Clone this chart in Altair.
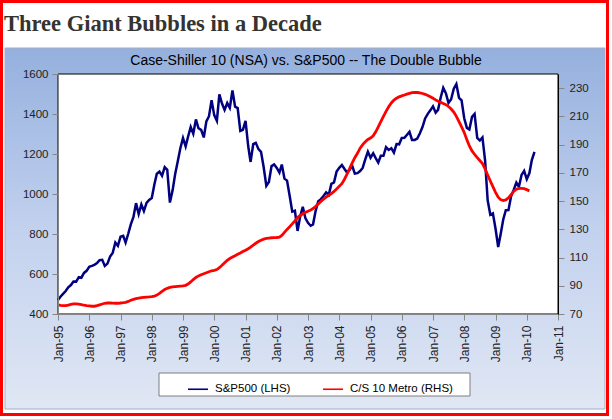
import altair as alt
import pandas as pd

# ---------------- data ----------------
title_main = "Three Giant Bubbles in a Decade"
chart_title = "Case-Shiller 10 (NSA) vs. S&P500 -- The Double Bubble"
series_names = ["S&P500 (LHS)", "C/S 10 Metro (RHS)"]
series_colors = ["#000080", "#FF0000"]
start_month = "1995-01-01"

# S&P500 monthly, Jan-1995 .. Apr-2010
sp500 = [
    470.4, 487.4, 500.7, 514.7, 533.4, 544.8, 562.1, 561.9, 584.4, 581.5, 605.4, 615.9,
    636.0, 640.4, 645.5, 654.2, 669.1, 670.6, 640.0, 652.0, 687.3, 705.3, 757.0, 740.7,
    786.2, 790.8, 757.1, 801.3, 848.3, 885.1, 954.3, 899.5, 947.3, 914.6, 955.4, 970.4,
    980.3, 1049.3, 1101.8, 1111.8, 1090.8, 1133.8, 1120.7, 957.3, 1017.0, 1098.7, 1163.6, 1229.2,
    1279.6, 1238.3, 1286.4, 1335.2, 1301.8, 1372.7, 1328.7, 1320.4, 1282.7, 1362.9, 1388.9, 1469.3,
    1394.5, 1366.4, 1498.6, 1452.4, 1420.6, 1454.6, 1430.8, 1517.7, 1436.5, 1429.4, 1315.0, 1320.3,
    1366.0, 1239.9, 1160.3, 1249.5, 1255.8, 1224.4, 1211.2, 1133.6, 1040.9, 1059.8, 1139.5, 1148.1,
    1130.2, 1106.7, 1147.4, 1076.9, 1067.1, 989.8, 911.6, 916.1, 815.3, 885.8, 936.3, 879.8,
    855.7, 841.2, 848.2, 916.9, 963.6, 974.5, 990.3, 1008.0, 996.0, 1050.7, 1058.2, 1111.9,
    1131.1, 1144.9, 1126.2, 1107.3, 1120.7, 1140.8, 1101.7, 1104.2, 1114.6, 1130.2, 1173.8, 1211.9,
    1181.3, 1203.6, 1180.6, 1156.9, 1191.5, 1191.3, 1234.2, 1220.3, 1228.8, 1207.0, 1249.5, 1248.3,
    1280.1, 1280.7, 1294.9, 1310.6, 1270.1, 1270.2, 1276.7, 1303.8, 1335.9, 1377.9, 1400.6, 1418.3,
    1438.2, 1406.8, 1420.9, 1482.4, 1530.6, 1503.4, 1455.3, 1474.0, 1526.8, 1549.4, 1481.1, 1468.4,
    1378.6, 1330.6, 1322.7, 1385.6, 1400.4, 1280.0, 1267.4, 1282.8, 1166.4, 968.8, 896.2, 903.3,
    825.9, 735.1, 797.9, 872.8, 919.1, 919.3, 987.5, 1020.6, 1057.1, 1036.2, 1095.6, 1115.1,
    1073.9, 1104.5, 1169.4, 1211.0,
]

# Case-Shiller 10 composite (NSA) monthly, Jan-1995 .. Feb-2010
cs10 = [
    76.4, 76.1, 75.9, 75.9, 76.3, 76.8, 77.1, 77.2, 77.0, 76.7, 76.2, 75.9,
    75.7, 75.5, 75.5, 75.9, 76.5, 77.1, 77.6, 77.8, 77.8, 77.7, 77.6, 77.6,
    77.8, 78.0, 78.3, 78.9, 79.7, 80.4, 80.9, 81.3, 81.6, 81.8, 82.0, 82.1,
    82.3, 82.6, 83.4, 84.6, 86.0, 87.3, 88.2, 88.8, 89.2, 89.4, 89.6, 89.8,
    89.9, 90.3, 91.2, 92.7, 94.4, 95.9, 97.0, 97.8, 98.5, 99.2, 99.9, 100.6,
    100.9, 101.5, 102.8, 104.5, 106.3, 108.0, 109.3, 110.3, 111.3, 112.3, 113.2, 114.2,
    115.2, 116.2, 117.3, 118.7, 120.1, 121.3, 122.3, 123.0, 123.5, 123.8, 124.0, 124.1,
    124.2, 124.5, 125.7, 127.8, 129.9, 131.8, 133.8, 136.0, 138.3, 139.8, 141.0, 142.0,
    142.8, 143.6, 144.7, 146.3, 148.0, 149.7, 151.3, 152.8, 154.1, 155.3, 156.8, 158.6,
    160.5, 162.3, 165.3, 169.0, 173.0, 177.0, 180.7, 183.8, 187.5, 190.0, 192.0, 193.6,
    194.6, 196.2, 198.9, 202.5, 206.3, 210.0, 213.5, 216.8, 219.5, 221.5, 222.8, 223.8,
    224.5, 225.1, 225.7, 226.3, 226.8, 227.0, 226.9, 226.6, 226.2, 225.6, 224.8, 223.9,
    222.8, 221.7, 220.7, 219.9, 219.1, 218.3, 217.0, 215.2, 213.0, 210.0, 206.2, 202.5,
    198.5, 193.5, 189.0, 185.5, 183.0, 180.8, 178.7, 176.5, 172.8, 168.5, 164.2, 160.2,
    156.2, 152.8, 151.0, 150.4, 150.8, 152.3, 154.6, 156.8, 158.4, 159.0, 159.0, 158.8,
    158.1, 157.2,
]

left_ticks = [400, 600, 800, 1000, 1200, 1400, 1600]
right_ticks = [70, 90, 110, 130, 150, 170, 190, 210, 230]
year_ticks = list(range(1995, 2012))

sp_df = pd.DataFrame({
    "date": pd.date_range(start_month, periods=len(sp500), freq="MS"),
    "value": sp500,
    "series": series_names[0],
})
cs_df = pd.DataFrame({
    "date": pd.date_range(start_month, periods=len(cs10), freq="MS"),
    "value": cs10,
    "series": series_names[1],
})

# ---------------- layout ----------------
W, H = 500, 240
PAD = {"left": 58, "top": 74, "right": 54, "bottom": 105}
FONT = "Liberation Sans"
one = pd.DataFrame({"k": [0]})

gradient = alt.Gradient(
    gradient="linear",
    stops=[
        alt.GradientStop(offset=0, color="#95B0DE"),
        alt.GradientStop(offset=0.5, color="#C2D1EE"),
        alt.GradientStop(offset=1, color="#E0E7F4"),
    ],
    x1=0, x2=0, y1=0, y2=1,
)

panel = alt.Chart(one).mark_rect(fill=gradient, stroke="#A3AEC2", strokeWidth=1).encode(
    x=alt.value(-53), x2=alt.value(547), y=alt.value(-26), y2=alt.value(335)
)
red_frame = alt.Chart(one).mark_rect(fill="transparent", stroke="#FF0000", strokeWidth=3).encode(
    x=alt.value(-56.5), x2=alt.value(549.5), y=alt.value(-72.5), y2=alt.value(340.5)
)
plot_bg = alt.Chart(one).mark_rect(fill="white", stroke="#000000", strokeWidth=1).encode(
    x=alt.value(0), x2=alt.value(W), y=alt.value(0), y2=alt.value(H)
)
title1 = alt.Chart(one).mark_text(
    text=title_main, font="Liberation Serif", fontSize=22.5, fontWeight="bold",
    color="#353330", align="left", baseline="alphabetic"
).encode(x=alt.value(-54), y=alt.value(-43))
title2 = alt.Chart(one).mark_text(
    text=chart_title, font=FONT, fontSize=14, color="#000000",
    align="center", baseline="alphabetic"
).encode(x=alt.value(248), y=alt.value(-9))
legend_box = alt.Chart(one).mark_rect(fill="white", stroke="#7F7F7F", strokeWidth=1).encode(
    x=alt.value(101), x2=alt.value(412), y=alt.value(299), y2=alt.value(322)
)

x_scale = alt.Scale(
    domain=[alt.DateTime(year=1995, month=1, date=1), alt.DateTime(year=2011, month=1, date=1)],
    nice=False,
)
x_axis = alt.Axis(
    values=[alt.DateTime(year=y, month=1, date=1) for y in year_ticks],
    format="%b-%y", labelAngle=270, labelAlign="right", labelBaseline="middle",
    title=None, grid=False, tickSize=6, labelPadding=5,
    labelFont=FONT, labelFontSize=12, labelColor="#222222",
    domainColor="#868686", tickColor="#868686", zindex=1, labelOverlap=False,
)
color_enc = alt.Color(
    "series:N",
    scale=alt.Scale(domain=series_names, range=series_colors),
    legend=alt.Legend(
        title=None, orient="none", legendX=129, legendY=304, direction="horizontal",
        symbolType="stroke", symbolSize=400, symbolStrokeWidth=1.6,
        labelFont=FONT, labelFontSize=11.5, labelColor="#000000", labelOffset=6,
        columnPadding=28, padding=0, zindex=2,
    ),
)

sp_line = alt.Chart(sp_df).mark_line(strokeWidth=2.5).encode(
    x=alt.X("date:T", scale=x_scale, axis=x_axis),
    y=alt.Y("value:Q", scale=alt.Scale(domain=[400, 1600], nice=False, zero=False),
            axis=alt.Axis(orient="left", values=left_ticks, format="d", title=None, grid=False,
                          tickSize=6, labelPadding=4, labelFont=FONT, labelFontSize=11.5,
                          labelColor="#222222", domainColor="#868686", tickColor="#868686",
                          zindex=1)),
    color=color_enc,
)
cs_line = alt.Chart(cs_df).mark_line(strokeWidth=2.8).encode(
    x=alt.X("date:T", scale=x_scale, axis=x_axis),
    y=alt.Y("value:Q", scale=alt.Scale(domain=[70, 240], nice=False, zero=False),
            axis=alt.Axis(orient="right", values=right_ticks, format="d", title=None, grid=False,
                          tickSize=6, labelPadding=5, labelFont=FONT, labelFontSize=11.5,
                          labelColor="#222222", domainColor="#000000", tickColor="#868686",
                          zindex=1)),
    color=color_enc,
)

chart = alt.layer(
    panel, red_frame, plot_bg, title1, title2, legend_box, sp_line, cs_line
).resolve_scale(y="independent").properties(
    width=W, height=H, padding=PAD,
    autosize=alt.AutoSizeParams(type="none"),
    background="white",
).configure_view(stroke=None)

chart.save("out.html", embed_options={"renderer": "svg", "actions": False})
